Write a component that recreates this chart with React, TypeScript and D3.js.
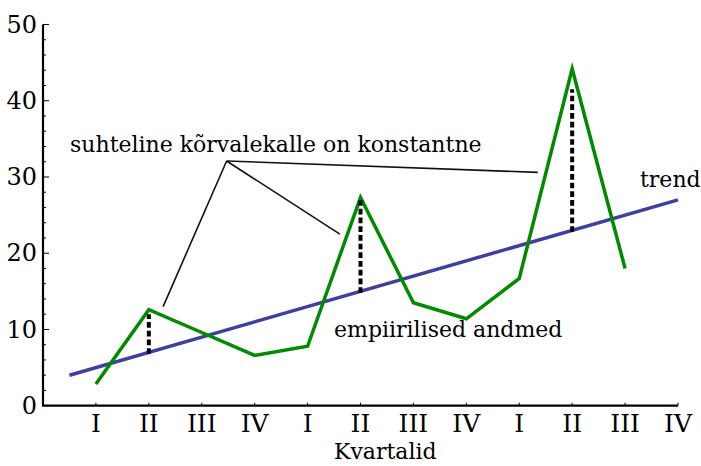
import { useRef, useEffect } from "react";
import * as d3 from "d3";

const quarters = ["I", "II", "III", "IV", "I", "II", "III", "IV", "I", "II", "III", "IV"];
// empirical values for quarters 1..11
const empirical = [2.85, 12.6, 9.6, 6.6, 7.8, 27.3, 13.5, 11.4, 16.7, 44.2, 18.0];
// linear trend endpoints [t, value]
const trendLine: [number, number][] = [[0.5, 4], [12, 27]];
// quarters where the deviation is marked, and where the dotted mark stops
const residT = [2, 6, 10];
const residTop = [12.0, 27.0, 41.5];
const yTicks = [0, 10, 20, 30, 40, 50];
// annotation pointers in data coords: pivot and three ends
const pivot: [number, number] = [3.47, 32.1];
const pointerEnds: [number, number][] = [[2.27, 13.0], [5.61, 22.5], [9.35, 30.6]];

const FONT = "DejaVu Serif";

export default function App() {
  const svgRef = useRef<SVGSVGElement>(null);

  useEffect(() => {
    if (!svgRef.current) return;
    const svg = d3.select(svgRef.current);
    svg.selectAll("*").remove();

    const x = d3.scaleLinear().domain([0, 12]).range([43, 678]);
    const y = d3.scaleLinear().domain([0, 50]).range([405.7, 24.5]);
    const trendAt = (t: number) => trendLine[0][1] + (t - trendLine[0][0]) * (trendLine[1][1] - trendLine[0][1]) / (trendLine[1][0] - trendLine[0][0]);

    const g = svg.append("g").style("font-family", FONT);

    // trend
    g.append("path")
      .datum(trendLine)
      .attr("d", d3.line<[number, number]>().x((d) => x(d[0])).y((d) => y(d[1])))
      .attr("fill", "none")
      .attr("stroke", "#3f3f9c")
      .attr("stroke-width", 3.5);

    // empirical data
    g.append("path")
      .datum(empirical)
      .attr("d", d3.line<number>().x((_, i) => x(i + 1)).y((d) => y(d)))
      .attr("fill", "none")
      .attr("stroke", "#008a00")
      .attr("stroke-width", 3.5)
      .attr("stroke-linejoin", "miter");

    // deviation marks
    g.selectAll(".resid")
      .data(residT)
      .join("line")
      .attr("x1", (d) => x(d))
      .attr("x2", (d) => x(d))
      .attr("y1", (d) => y(trendAt(d)) + 1.5)
      .attr("y2", (_, i) => y(residTop[i]))
      .attr("stroke", "#000")
      .attr("stroke-width", 4)
      .attr("stroke-dasharray", "5.7,3");

    // pointers
    g.selectAll(".ptr")
      .data(pointerEnds)
      .join("line")
      .attr("x1", x(pivot[0]))
      .attr("y1", y(pivot[1]))
      .attr("x2", (d) => x(d[0]))
      .attr("y2", (d) => y(d[1]))
      .attr("stroke", "#111")
      .attr("stroke-width", 1.6);

    // y axis
    const ya = g.append("g");
    ya.append("line")
      .attr("x1", x(0)).attr("x2", x(0))
      .attr("y1", y(0)).attr("y2", y(50))
      .attr("stroke", "#000").attr("stroke-width", 2.2);
    ya.selectAll(".minor")
      .data(d3.range(0, 51, 2))
      .join("line")
      .attr("x1", x(0))
      .attr("x2", (d) => x(0) + (d % 10 === 0 ? 6 : 3))
      .attr("y1", (d) => y(d))
      .attr("y2", (d) => y(d))
      .attr("stroke", "#000")
      .attr("stroke-width", 1);
    ya.selectAll("text")
      .data(yTicks)
      .join("text")
      .attr("x", x(0) - 6)
      .attr("y", (d) => y(d))
      .attr("dy", "0.34em")
      .attr("text-anchor", "end")
      .attr("font-size", 24)
      .text((d) => d);

    // x axis
    const xa = g.append("g");
    xa.append("line")
      .attr("x1", x(0) - 1).attr("x2", x(12))
      .attr("y1", y(0)).attr("y2", y(0))
      .attr("stroke", "#000").attr("stroke-width", 2.2);
    xa.selectAll(".tk")
      .data(quarters)
      .join("line")
      .attr("x1", (_, i) => x(i + 1))
      .attr("x2", (_, i) => x(i + 1))
      .attr("y1", y(0))
      .attr("y2", y(0) - 3)
      .attr("stroke", "#000")
      .attr("stroke-width", 1);
    xa.selectAll("text")
      .data(quarters)
      .join("text")
      .attr("x", (_, i) => x(i + 1))
      .attr("y", 431.5)
      .attr("text-anchor", "middle")
      .attr("font-size", 25)
      .text((d) => d);

    const label = (tx: number, ty: number, s: string) =>
      g.append("text")
        .attr("x", tx).attr("y", ty)
        .attr("font-size", 22)
        .text(s);

    label(334, 459, "Kvartalid");
    label(70, 151.5, "suhteline kõrvalekalle on konstantne");
    label(334, 336.5, "empiirilised andmed");
    label(640, 186.5, "trend");
  }, []);

  return (
    <svg
      ref={svgRef}
      width={701}
      height={466}
      style={{ position: "absolute", left: 0, top: 0, background: "#fff" }}
    />
  );
}
